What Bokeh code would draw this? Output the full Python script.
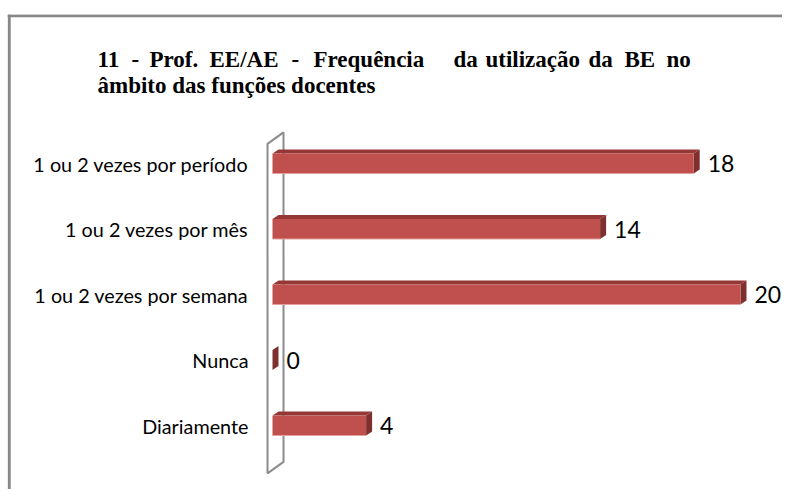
import numpy as np
from bokeh.plotting import figure
from bokeh.models import Range1d, Span
from bokeh.core.properties import value
from bokeh.embed import file_html
from bokeh.resources import INLINE

# ---- data ----
categories = ["1 ou 2 vezes por período", "1 ou 2 vezes por mês",
              "1 ou 2 vezes por semana", "Nunca", "Diariamente"]
counts = [18, 14, 20, 0, 4]
title_line1_words = ["11", "-", "Prof.", "EE/AE", "-", "Frequência",
                     "da", "utilização", "da", "BE", "no"]
title_line2 = "âmbito das funções docentes"

# ---- layout (canvas pixels) ----
W, H = 782, 489
X0_PX, X_PX_PER_UNIT = 272, 23.4      # x pixel of value 0, pixels per unit
Y0_PX, Y_PX_PER_STEP = 425, 65.5      # y pixel of bottom category, pixels per category
FRAME_L, FRAME_T = 7, 14
TITLE_WORD_PX = [97, 131, 149, 209, 291, 313, 453, 485, 588, 624, 666]
TITLE_BASE1_PX, TITLE_BASE2_PX = 59, 85
CAT_LABEL_RIGHT_PX = 248


def px2v(sx):
    return (sx - X0_PX) / X_PX_PER_UNIT


def py2i(sy):
    return (Y0_PX - sy) / Y_PX_PER_STEP


FRONT = "#C0504D"
TOP = "#953735"
SIDE = "#7E302E"
WALL = "#8C8C8C"
BORDER = "#878787"

p = figure(width=W, height=H, output_backend="svg", toolbar_location=None,
           x_range=Range1d(px2v(FRAME_L), px2v(W)),
           y_range=Range1d(py2i(H), py2i(FRAME_T)),
           x_axis_type=None, y_axis_type=None, min_border=0)
p.min_border_left = FRAME_L
p.min_border_top = FRAME_T
p.min_border_right = 0
p.min_border_bottom = 0
p.outline_line_color = None
p.background_fill_color = "white"
p.border_fill_color = "white"

# chart-area border (left and top edges visible)
p.add_layout(Span(location=px2v(FRAME_L + 1.7), dimension="height",
                  line_color=BORDER, line_width=3))
p.add_layout(Span(location=py2i(FRAME_T + 1.2), dimension="width",
                  line_color=BORDER, line_width=3))

n = len(categories)
vals = np.array(counts, dtype=float)
idx = np.arange(n)[::-1].astype(float)

half = 10 / Y_PX_PER_STEP     # half bar thickness (category steps)
dx = 6 / X_PX_PER_UNIT
dy = 4 / Y_PX_PER_STEP

# back wall (3-D)
wall_x0 = px2v(267)
wall_dx = 16 / X_PX_PER_UNIT
wall_dy = 11.5 / Y_PX_PER_STEP
wall_bot = -0.73
wall_top = (n - 1) + 0.30
p.patch([wall_x0, wall_x0, wall_x0 + wall_dx, wall_x0 + wall_dx],
        [wall_bot, wall_top, wall_top + wall_dy, wall_bot + wall_dy],
        fill_color="white", line_color=WALL, line_width=2)

tops = idx + half
bots = idx - half

# top faces
p.patches(xs=[[0, dx, v + dx, v] for v in vals],
          ys=[[t, t + dy, t + dy, t] for t in tops],
          fill_color=TOP, line_color=None)
# side faces
p.patches(xs=[[v, v + dx, v + dx, v] for v in vals],
          ys=[[t, t + dy, b + dy, b] for t, b in zip(tops, bots)],
          fill_color=SIDE, line_color=None)
# front faces
p.quad(left=0, right=vals, bottom=bots, top=tops, fill_color=FRONT, line_color=None)
p.segment(x0=0, x1=vals, y0=bots, y1=bots, line_color="#E3A09E", line_width=1)

# value labels
p.text(x=vals + dx, y=idx, text=[str(c) for c in counts], x_offset=8,
       text_baseline="middle", text_align="left",
       text_font=value("Lato"), text_font_size="23px", text_color="black")

# category labels
p.text(x=np.zeros(n), y=idx, text=categories, x_offset=CAT_LABEL_RIGHT_PX - X0_PX,
       text_baseline="middle", text_align="right",
       text_font=value("Lato"), text_font_size="19.8px", text_color="black")

# title
p.text(x=[px2v(sx) for sx in TITLE_WORD_PX], y=[py2i(TITLE_BASE1_PX)] * len(TITLE_WORD_PX),
       text=title_line1_words, text_baseline="alphabetic", text_align="left",
       text_font=value("Liberation Serif"), text_font_style="bold",
       text_font_size="23px", text_color="black")
p.text(x=[px2v(TITLE_WORD_PX[0])], y=[py2i(TITLE_BASE2_PX)], text=[title_line2],
       text_baseline="alphabetic", text_align="left",
       text_font=value("Liberation Serif"), text_font_style="bold",
       text_font_size="23px", text_color="black")

open("out.html", "w").write(file_html(p, INLINE))
